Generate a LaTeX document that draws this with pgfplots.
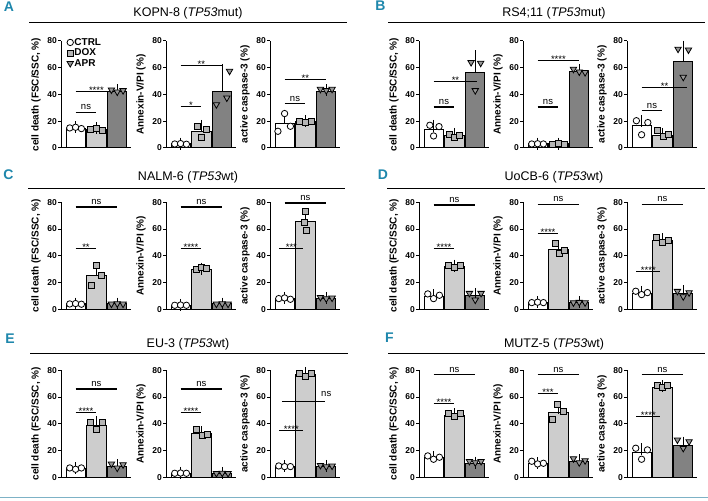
\documentclass[border=0pt]{standalone}
\usepackage{fontspec}
\setmainfont{Liberation Sans}
\usepackage{pgfplots}
\pgfplotsset{compat=1.18}
\definecolor{doxbar}{RGB}{205,205,205}
\definecolor{aprbar}{RGB}{130,130,130}
\definecolor{doxmk}{RGB}{180,180,180}
\definecolor{aprmk}{RGB}{150,150,150}
\definecolor{panelblue}{RGB}{30,135,172}
\definecolor{bottomline}{RGB}{125,178,198}
\pgfplotsset{
  sub/.style={
    scale only axis, width=70pt, height=107pt,
    xmin=0.3, xmax=3.66, ymin=0, ymax=80,
    axis x line*=bottom, axis y line*=left,
    axis line style={-, line width=1pt},
    xtick=\empty, ytick={0,20,40,60,80},
    tick align=outside, major tick length=3pt,
    every tick/.style={black, line width=1pt},
    yticklabel style={font=\bfseries\fontsize{8.5}{9}\selectfont, inner sep=1pt},
    /pgf/number format/assume math mode=true,
    every axis y label/.style={at={([xshift=-25pt]axis description cs:0,0.5)}, rotate=90, anchor=center, font=\bfseries\fontsize{10}{11}\selectfont},
    clip=false, anchor=south west,
  },
  bbase/.style={ybar, bar width=0.92, bar shift=0pt, draw=black, line width=1pt,
    error bars/y dir=plus, error bars/y explicit,
    error bars/error bar style={line width=1pt, black},
    error bars/error mark options={line width=1pt, mark size=6pt, black}},
  bC/.style={bbase, fill=white},
  bD/.style={bbase, fill=doxbar},
  bA/.style={bbase, fill=aprbar},
  pC/.style={only marks, mark=*, mark size=3.2pt, mark options={fill=white, draw=black, line width=0.8pt}},
  pD/.style={only marks, mark=square*, mark size=3pt, mark options={fill=doxmk, draw=black, line width=0.8pt}},
  pA/.style={only marks, mark=triangle*, mark size=3.7pt, mark options={fill=aprmk, draw=black, line width=0.8pt, rotate=180}},
}
\newcommand\bars[6]{%
  \addplot[bC] coordinates {(1,#1) +- (0,#2)};
  \addplot[bD] coordinates {(2,#3) +- (0,#4)};
  \addplot[bA] coordinates {(3,#5) +- (0,#6)};}
\newcommand\sig[4]{\draw[line width=1.2pt] (axis cs:#1,#3) -- (axis cs:#2,#3) node[midway, above, inner sep=2pt, font=\fontsize{9.5}{9.5}\selectfont] {#4};}
\newcommand\sigs[4]{\draw[line width=1.2pt] (axis cs:#1,#3) -- (axis cs:#2,#3) node[midway, above, inner sep=0pt, yshift=-2.5pt, font=\fontsize{9.5}{9.5}\selectfont] {#4};}
\newcommand\LCD{cell death (FSC/SSC, \%)}
\newcommand\LAN{Annexin-V/PI (\%)}
\newcommand\LCA{active caspase-3 (\%)}
\begin{document}
\begin{tikzpicture}[x=1pt,y=1pt]
\useasboundingbox (0pt,0pt) rectangle (708pt,500pt);
% panel letters, titles, rules
\begin{scope}[every node/.style={font=\bfseries\fontsize{14}{14}\selectfont, text=panelblue}]
\node at (9pt,493pt) {A};
\node at (380.5pt,494pt) {B};
\node at (8.5pt,325pt) {C};
\node at (383pt,325pt) {D};
\node at (10pt,161pt) {E};
\node at (389.5pt,162.5pt) {F};
\end{scope}
\begin{scope}[every node/.style={font=\fontsize{12.5}{13}\selectfont}]
\node at (188pt,487pt) {KOPN-8 (\textit{TP53}mut)};
\node at (554pt,487pt) {RS4;11 (\textit{TP53}mut)};
\node at (188pt,322.5pt) {NALM-6 (\textit{TP53}wt)};
\node at (554pt,322.5pt) {UoCB-6 (\textit{TP53}wt)};
\node at (188pt,155.5pt) {EU-3 (\textit{TP53}wt)};
\node at (554pt,155.5pt) {MUTZ-5 (\textit{TP53}wt)};
\end{scope}
\draw[line width=1.3pt] (29pt,477.2pt) -- (347pt,477.2pt);
\draw[line width=1.3pt] (388pt,477.2pt) -- (705pt,477.2pt);
\draw[line width=1.3pt] (28pt,311.8pt) -- (345pt,311.8pt);
\draw[line width=1.3pt] (387pt,311.8pt) -- (705pt,311.8pt);
\draw[line width=1.3pt] (30pt,146.2pt) -- (348pt,146.2pt);
\draw[line width=1.3pt] (388pt,146.2pt) -- (705pt,146.2pt);
\draw[line width=1.3pt, bottomline] (0pt,2.3pt) -- (708pt,2.3pt);

% ===== A: KOPN-8 =====
\begin{axis}[sub, at={(61pt,352pt)}, ylabel={\LCD},
  legend style={at={(axis cs:0.58,83)}, anchor=north west, draw=none, fill=none,
    font=\bfseries\fontsize{10}{10}\selectfont, row sep=0pt, inner sep=0pt,
    nodes={inner sep=1pt}}, legend cell align=left,
  legend image code/.code={\draw[mark repeat=1,#1] plot coordinates {(3.5pt,0pt)};}]
\addlegendimage{pC}\addlegendentry{CTRL}
\addlegendimage{pD}\addlegendentry{DOX}
\addlegendimage{pA}\addlegendentry{APR}
\bars{14.6}{0.8}{14}{0.7}{42}{1.2}
\addplot[pC] coordinates {(0.72,15) (1,15.5) (1.28,14.5)};
\addplot[pD] coordinates {(1.72,14) (2,14.5) (2.28,13.5)};
\addplot[pA] coordinates {(2.72,43.5) (3,42) (3.28,43)};
\sig{1}{2}{26.4}{ns}
\sigs{1}{3}{42.3}{****}
\end{axis}
\begin{axis}[sub, at={(166pt,352pt)}, ylabel={\LAN}]
\bars{3}{0.3}{12.5}{4}{42.5}{16}
\addplot[pC] coordinates {(0.72,3) (1,3.3) (1.28,2.8)};
\addplot[pD] coordinates {(1.82,16) (2.22,13.75) (2.0,8)};
\addplot[pA] coordinates {(2.72,32.5) (3.22,37.5) (3.35,57.5)};
\sigs{1}{2}{31}{*}
\sigs{1}{3}{61.75}{**}
\end{axis}
\begin{axis}[sub, at={(270pt,352pt)}, ylabel={\LCA}]
\bars{18.2}{5}{19.5}{0.8}{42.5}{0.8}
\addplot[pC] coordinates {(0.68,12.5) (1.0,25.75) (1.28,16.25)};
\addplot[pD] coordinates {(1.72,20) (2.02,19.3) (2.3,19.8)};
\addplot[pA] coordinates {(2.72,44) (3,43) (3.28,44)};
\sig{1}{2}{33}{ns}
\sigs{1}{3}{51}{**}
\end{axis}

% ===== B: RS4;11 =====
\begin{axis}[sub, at={(419pt,352pt)}, ylabel={\LCD}]
\bars{13.5}{3}{9.5}{1}{56.5}{12}
\addplot[pC] coordinates {(0.82,17) (1.0,9) (1.26,16)};
\addplot[pD] coordinates {(1.75,10) (2.0,8) (2.25,9.5)};
\addplot[pA] coordinates {(2.8,64) (3.0,43) (3.26,63.5)};
\sig{1}{2}{30.6}{ns}
\sigs{1}{3.1}{49.5}{**}
\end{axis}
\begin{axis}[sub, at={(523pt,352pt)}, ylabel={\LAN}]
\bars{3}{0.3}{3}{0.3}{57}{1}
\addplot[pC] coordinates {(0.72,3) (1,3.2) (1.28,3)};
\addplot[pD] coordinates {(1.72,3) (2,3.4) (2.28,3)};
\addplot[pA] coordinates {(2.72,59) (3,57) (3.28,56.5)};
\sig{1}{2}{30.6}{ns}
\sigs{1}{3}{65.4}{****}
\end{axis}
\begin{axis}[sub, at={(627pt,352pt)}, ylabel={\LCA}]
\bars{16.5}{3.5}{9}{1.5}{64.8}{11}
\addplot[pC] coordinates {(0.75,20.4) (1,9.9) (1.3,19)};
\addplot[pD] coordinates {(1.78,13.5) (2.05,8.6) (2.3,10)};
\addplot[pA] coordinates {(2.75,74) (3.0,53) (3.25,73.4)};
\sig{1}{2}{27.8}{ns}
\sigs{1}{3.2}{45}{**}
\end{axis}

% ===== C: NALM-6 =====
\begin{axis}[sub, at={(61pt,190.7pt)}, ylabel={\LCD}]
\bars{4}{0.3}{25.3}{4.5}{4}{0.3}
\addplot[pC] coordinates {(0.72,4) (1,4.3) (1.28,3.8)};
\addplot[pD] coordinates {(1.75,18) (2.0,33) (2.25,25)};
\addplot[pA] coordinates {(2.72,4) (3,4.2) (3.28,4)};
\sigs{1}{2}{45.4}{**}
\sig{1}{3}{76.5}{ns}
\end{axis}
\begin{axis}[sub, at={(166pt,190.7pt)}, ylabel={\LAN}]
\bars{3}{0.3}{30}{0.5}{4}{0.3}
\addplot[pC] coordinates {(0.72,3) (1,3.2) (1.28,3)};
\addplot[pD] coordinates {(1.75,30) (2.0,31) (2.25,30.5)};
\addplot[pA] coordinates {(2.72,4) (3,4.2) (3.28,4)};
\sigs{1}{2}{45.4}{****}
\sig{1}{3}{76.5}{ns}
\end{axis}
\begin{axis}[sub, at={(270pt,190.7pt)}, ylabel={\LCA}]
\bars{8}{0.5}{65.5}{4}{8}{0.5}
\addplot[pC] coordinates {(0.72,8) (1,8.5) (1.28,7.5)};
\addplot[pD] coordinates {(2.0,73.5) (1.95,65) (2.05,59)};
\addplot[pA] coordinates {(2.72,9) (3,8) (3.28,8.5)};
\sigs{0.75}{1.9}{45.4}{***}
\sig{1}{3}{79.5}{ns}
\end{axis}

% ===== D: UoCB-6 =====
\begin{axis}[sub, at={(419pt,190.7pt)}, ylabel={\LCD}]
\bars{9.5}{1}{32}{0.7}{10}{1.5}
\addplot[pC] coordinates {(0.72,11.5) (1,8) (1.28,10.5)};
\addplot[pD] coordinates {(1.72,33) (2,31) (2.28,33)};
\addplot[pA] coordinates {(2.72,12) (3,7) (3.28,12)};
\sigs{1}{2}{45.4}{****}
\sig{1}{3}{78}{ns}
\end{axis}
\begin{axis}[sub, at={(523pt,190.7pt)}, ylabel={\LAN}]
\bars{5}{0.3}{44.5}{2.5}{5}{0.3}
\addplot[pC] coordinates {(0.72,5) (1,5.3) (1.28,5)};
\addplot[pD] coordinates {(1.85,49) (2.05,41.5) (2.3,44)};
\addplot[pA] coordinates {(2.72,5) (3,5.3) (3.28,5)};
\sigs{1}{2}{56.6}{****}
\sig{1}{3}{78.5}{ns}
\end{axis}
\begin{axis}[sub, at={(627pt,190.7pt)}, ylabel={\LCA}]
\bars{12}{1}{51.5}{1}{12}{1.5}
\addplot[pC] coordinates {(0.72,13.5) (1,11) (1.28,12.5)};
\addplot[pD] coordinates {(1.72,53.4) (2.0,50) (2.28,51.5)};
\addplot[pA] coordinates {(2.72,13.5) (3,9.5) (3.28,12.5)};
\sigs{0.75}{1.9}{28.4}{****}
\sig{1}{3}{78.5}{ns}
\end{axis}

% ===== E: EU-3 =====
\begin{axis}[sub, at={(61pt,22.7pt)}, ylabel={\LCD}]
\bars{6.5}{0.4}{39}{2}{8}{1}
\addplot[pC] coordinates {(0.72,7) (1,6) (1.28,7)};
\addplot[pD] coordinates {(1.72,41) (2.0,35.5) (2.28,41)};
\addplot[pA] coordinates {(2.72,10) (3,7) (3.28,9.5)};
\sigs{1}{2}{48.4}{****}
\sig{1}{3}{66}{ns}
\end{axis}
\begin{axis}[sub, at={(166pt,22.7pt)}, ylabel={\LAN}]
\bars{3}{0.3}{32.5}{1.3}{3}{0.3}
\addplot[pC] coordinates {(0.72,3) (1,3.2) (1.28,3)};
\addplot[pD] coordinates {(1.75,35.5) (2.05,31.5) (2.3,32)};
\addplot[pA] coordinates {(2.72,3) (3,3.2) (3.28,3)};
\sigs{1}{2}{48.4}{****}
\sig{1}{3}{66}{ns}
\end{axis}
\begin{axis}[sub, at={(270pt,22.7pt)}, ylabel={\LCA}]
\bars{8}{0.3}{77}{1}{8}{0.5}
\addplot[pC] coordinates {(0.72,8.5) (1,8) (1.28,8)};
\addplot[pD] coordinates {(1.72,78) (2.0,75.5) (2.28,78)};
\addplot[pA] coordinates {(2.72,9) (3,8) (3.28,8.5)};
\sigs{0.75}{1.9}{34.9}{****}
\draw[line width=1.2pt] (axis cs:0.87,56.6) -- (axis cs:2.94,56.6);
\node[above, inner sep=2pt, font=\fontsize{9.5}{9.5}\selectfont] at (axis cs:3.0,58.5) {ns};
\end{axis}

% ===== F: MUTZ-5 =====
\begin{axis}[sub, at={(419pt,22.7pt)}, ylabel={\LCD}]
\bars{14.5}{0.8}{46.5}{0.8}{10.5}{0.4}
\addplot[pC] coordinates {(0.72,16) (1,13.5) (1.28,15)};
\addplot[pD] coordinates {(1.72,48) (2.0,45.5) (2.28,47.5)};
\addplot[pA] coordinates {(2.72,12) (3,11) (3.28,12)};
\sigs{1}{2}{55.4}{****}
\sig{1}{3}{76.6}{ns}
\end{axis}
\begin{axis}[sub, at={(523pt,22.7pt)}, ylabel={\LAN}]
\bars{10}{0.6}{48.5}{3.2}{12}{0.9}
\addplot[pC] coordinates {(0.72,12) (1,10) (1.28,10.5)};
\addplot[pD] coordinates {(1.72,43) (1.95,54.3) (2.25,49)};
\addplot[pA] coordinates {(2.72,14) (3,11) (3.28,12.5)};
\sigs{1}{2}{62.5}{***}
\sig{1}{3}{76.6}{ns}
\end{axis}
\begin{axis}[sub, at={(627pt,22.7pt)}, ylabel={\LCA}]
\bars{18.6}{2.5}{67.5}{0.5}{24}{2}
\addplot[pC] coordinates {(0.72,21.75) (1,13.5) (1.28,20.5)};
\addplot[pD] coordinates {(1.75,69) (2.0,67.5) (2.25,68.5)};
\addplot[pA] coordinates {(2.72,28) (3,21.75) (3.28,26.75)};
\sigs{0.75}{1.9}{45.5}{****}
\sig{1}{3}{76.6}{ns}
\end{axis}
\end{tikzpicture}
\end{document}
